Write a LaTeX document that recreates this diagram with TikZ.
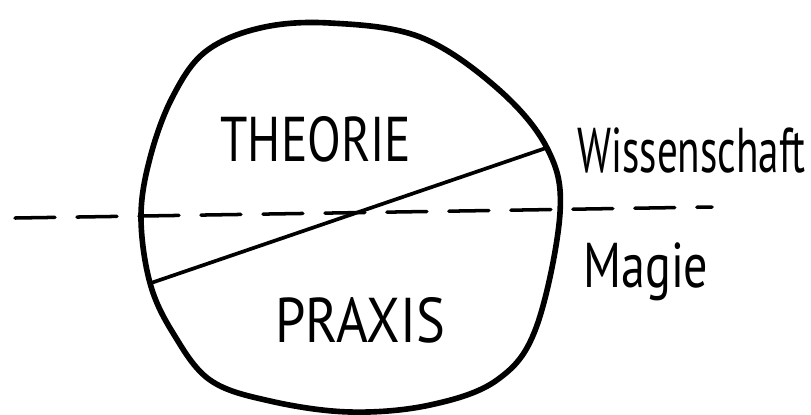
\documentclass[tikz,border=0pt]{standalone}
\usepackage{fontspec}
\usepackage{graphicx}
\setmainfont{PT Sans}
\usetikzlibrary{positioning}

\begin{document}
\begin{tikzpicture}[x=0.02cm, y=-0.02cm]
    \tikzstyle{rim} = [draw, line width=3.2pt, line join=round]
    \tikzstyle{split} = [draw, line width=2.1pt, line cap=round]
    \tikzstyle{border} = [draw, line width=2pt, dash pattern=on 0.8cm off 0.44cm, line cap=round]
    \tikzstyle{field} = [font=\fontsize{36}{36}\selectfont, inner sep=0pt, anchor=base]
    \tikzstyle{side} = [font=\fontsize{36}{36}\selectfont, inner sep=0pt, anchor=base west]

    \useasboundingbox (0,0) rectangle (811,414);

    % the egg-shaped whole
    \draw [rim] plot [smooth cycle, tension=0.6] coordinates {
        (330,23) (420,37) (497,88) (547,148) (560,213)
        (536,328) (497,380) (430,405) (350,412) (270,401) (210,380)
        (173,333) (150,283) (141,217) (150,158) (172,98) (205,52) (260,28)};

    \coordinate (low) at (151,283);
    \coordinate (high) at (546,148);
    \coordinate (west) at (15,218);
    \coordinate (east) at (712,207);

    \node [field] (theorie) at (316,161) {\scalebox{0.78}[1]{THEORIE}};
    \node [field] (praxis) at (360,342) {\scalebox{0.86}[1]{PRAXIS}};
    \node [side] (wiss) at (577,172) {\scalebox{0.65}[1]{Wissenschaft}};
    \node [side] (magie) at (583,287) {\scalebox{0.76}[1]{Magie}};

    \path [split] (low) -- (high);
    \path [border] (west) -- (east);
\end{tikzpicture}
\end{document}
